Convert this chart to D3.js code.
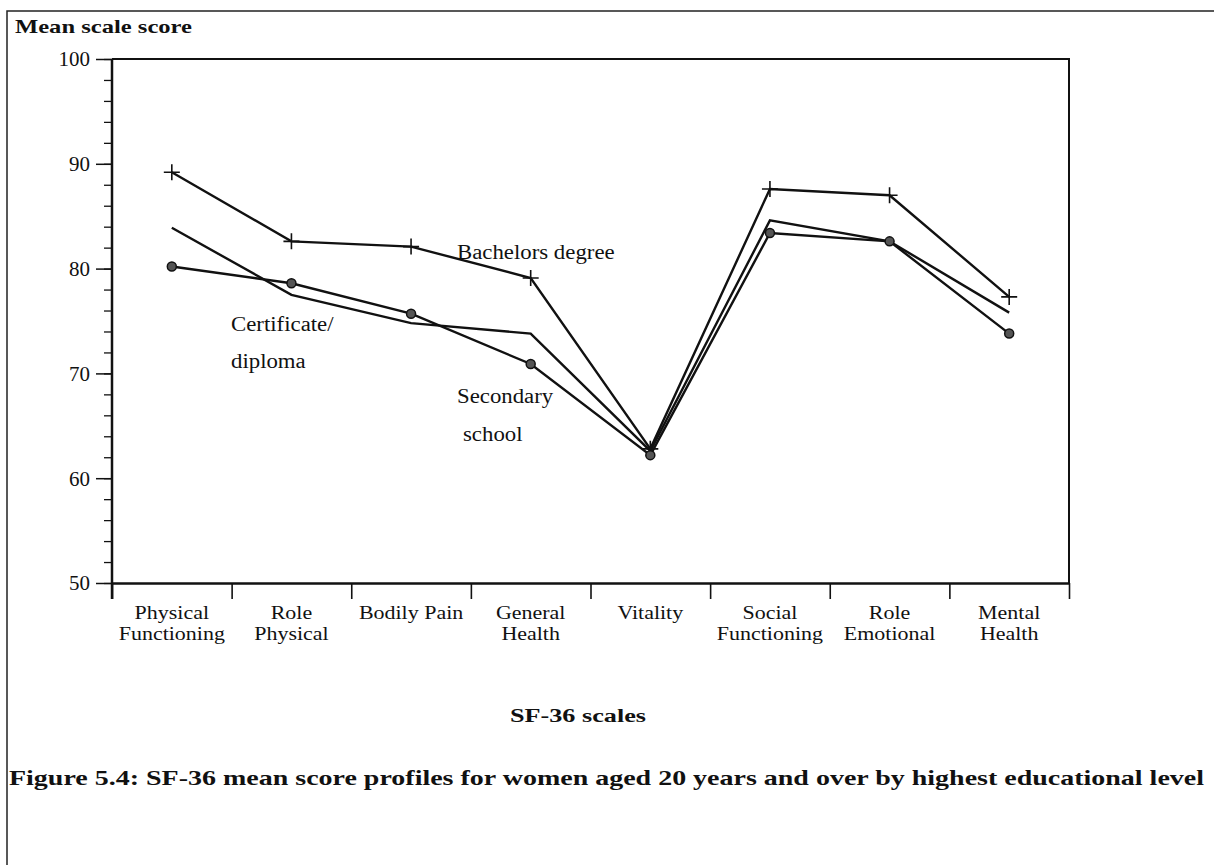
<!DOCTYPE html>
<html>
<head>
<meta charset="utf-8">
<script src="https://cdn.jsdelivr.net/npm/d3@7"></script>
<style>
  body { margin: 0; background: #fff; }
  text { font-family: "Liberation Serif", "Times New Roman", serif; fill: #111; }
</style>
</head>
<body>
<div id="chart"></div>
<script>
// SF-36 scale profiles by education level
const categories = ["Physical Functioning", "Role Physical", "Bodily Pain", "General Health",
  "Vitality", "Social Functioning", "Role Emotional", "Mental Health"];
const categoryLines = [["Physical", "Functioning"], ["Role", "Physical"], ["Bodily Pain"],
  ["General", "Health"], ["Vitality"], ["Social", "Functioning"], ["Role", "Emotional"], ["Mental", "Health"]];

const bachelors = [89.2, 82.6, 82.1, 79.1, 62.8, 87.6, 87.0, 77.3];
const certificate = [83.9, 77.5, 74.8, 73.8, 62.6, 84.6, 82.6, 75.8];
const secondary = [80.2, 78.6, 75.7, 70.9, 62.2, 83.4, 82.6, 73.8];

const yTicks = [50, 60, 70, 80, 90, 100];
const yMinorTicks = d3.range(50, 101, 2);

const svgWidth = 1214, svgHeight = 865;
const plotLeft = 112, plotRight = 1069, plotTop = 59, plotBottom = 583;

const svg = d3.select("#chart")
  .append("svg")
  .attr("width", svgWidth)
  .attr("height", svgHeight);

// stretch text a bit so the serif is about as wide as the original book face
function widen(sel, k) {
  sel.each(function() {
    const w = this.getComputedTextLength();
    d3.select(this).attr("textLength", w * k).attr("lengthAdjust", "spacingAndGlyphs");
  });
}

// page frame (top and left only)
svg.append("path")
  .attr("d", `M7,${svgHeight} V11 H${svgWidth}`)
  .attr("fill", "none")
  .attr("stroke", "#222")
  .attr("stroke-width", 1.5);

const x = d3.scaleBand().domain(categories).range([plotLeft, plotRight]);
const xEdge = d3.scaleLinear().domain([0, categories.length]).range([plotLeft, plotRight]);
const y = d3.scaleLinear().domain([50, 100]).range([plotBottom, plotTop]);

// plot frame top + right
svg.append("path")
  .attr("d", `M${plotLeft},${plotTop} H${plotRight} V${plotBottom}`)
  .attr("fill", "none")
  .attr("stroke", "#111")
  .attr("stroke-width", 2);

// y axis
const yMinor = svg.append("g")
  .attr("transform", `translate(${plotLeft},0)`)
  .call(d3.axisLeft(y).tickValues(yMinorTicks).tickSize(8).tickFormat(""));
yMinor.select(".domain").remove();
yMinor.selectAll("line").attr("stroke", "#111").attr("stroke-width", 1.3);

const yAxis = svg.append("g")
  .attr("transform", `translate(${plotLeft},0)`)
  .call(d3.axisLeft(y).tickValues(yTicks).tickSize(16).tickPadding(6).tickSizeOuter(0));
yAxis.select(".domain").remove();
yAxis.selectAll("line").attr("stroke", "#111").attr("stroke-width", 1.5);
yAxis.selectAll("text")
  .attr("font-size", 20)
  .attr("font-family", "Liberation Serif")
  .attr("fill", "#111")
  .attr("dy", "0.34em");

svg.append("line")
  .attr("x1", plotLeft).attr("x2", plotLeft)
  .attr("y1", plotTop).attr("y2", plotBottom + 16)
  .attr("stroke", "#111").attr("stroke-width", 2.5);

// x axis
const xAxis = svg.append("g")
  .attr("transform", `translate(0,${plotBottom})`)
  .call(d3.axisBottom(xEdge).tickValues(d3.range(0, categories.length + 1)).tickSize(16).tickFormat("").tickSizeOuter(0));
xAxis.select(".domain").attr("stroke", "#111").attr("stroke-width", 2.5);
xAxis.selectAll("line").attr("stroke", "#111").attr("stroke-width", 1.6);

const catLabels = svg.append("g")
  .selectAll("text")
  .data(categories)
  .enter()
  .append("text")
  .attr("x", d => x(d) + x.bandwidth() / 2)
  .attr("y", 619)
  .attr("text-anchor", "middle")
  .attr("font-size", 18);
const catSpans = catLabels.selectAll("tspan")
  .data((d, i) => categoryLines[i])
  .enter()
  .append("tspan")
  .attr("x", function() { return this.parentNode.getAttribute("x"); })
  .attr("dy", (d, i) => i === 0 ? 0 : 21)
  .text(d => d);

// lines
const line = d3.line()
  .x((d, i) => x(categories[i]) + x.bandwidth() / 2)
  .y(d => y(d));

[bachelors, certificate, secondary].forEach(series => {
  svg.append("path")
    .datum(series)
    .attr("d", line)
    .attr("fill", "none")
    .attr("stroke", "#111")
    .attr("stroke-width", 2.4)
    .attr("stroke-linejoin", "miter");
});

// plus markers for bachelors
svg.append("g")
  .selectAll("path")
  .data(bachelors)
  .enter()
  .append("path")
  .attr("d", (d, i) => {
    const cx = x(categories[i]) + x.bandwidth() / 2, cy = y(d);
    return `M${cx - 8},${cy} H${cx + 8} M${cx},${cy - 8} V${cy + 8}`;
  })
  .attr("stroke", "#111")
  .attr("stroke-width", 1.6);

// circle markers for secondary
svg.append("g")
  .selectAll("circle")
  .data(secondary)
  .enter()
  .append("circle")
  .attr("cx", (d, i) => x(categories[i]) + x.bandwidth() / 2)
  .attr("cy", d => y(d))
  .attr("r", 4.5)
  .attr("fill", "#555")
  .attr("stroke", "#111")
  .attr("stroke-width", 1.5);

// series labels
const seriesLabels = [
  { text: "Bachelors degree", x: 457, y: 259 },
  { text: "Certificate/", x: 231, y: 331 },
  { text: "diploma", x: 231, y: 368 },
  { text: "Secondary", x: 457, y: 403 },
  { text: "school", x: 463, y: 441 }
];
const sl = svg.append("g")
  .selectAll("text")
  .data(seriesLabels)
  .enter()
  .append("text")
  .attr("x", d => d.x)
  .attr("y", d => d.y)
  .attr("font-size", 20)
  .text(d => d.text);

// titles
const meanLabel = svg.append("text")
  .attr("x", 15).attr("y", 33)
  .attr("font-size", 19)
  .attr("font-weight", "bold")
  .text("Mean scale score");

const xTitle = svg.append("text")
  .attr("x", 578).attr("y", 722)
  .attr("text-anchor", "middle")
  .attr("font-size", 18)
  .attr("font-weight", "bold")
  .text("SF-36 scales");

const figTitle = svg.append("text")
  .attr("x", 9).attr("y", 785)
  .attr("font-size", 22)
  .attr("font-weight", "bold")
  .text("Figure 5.4: SF-36 mean score profiles for women aged 20 years and over by highest educational level");

widen(yAxis.selectAll("text"), 1.05);
widen(catSpans, 1.22);
widen(sl, 1.14);
xTitle.attr("textLength", 136).attr("lengthAdjust", "spacingAndGlyphs");
meanLabel.attr("textLength", 177).attr("lengthAdjust", "spacingAndGlyphs");
figTitle.attr("textLength", 1195).attr("lengthAdjust", "spacingAndGlyphs");
</script>
</body>
</html>
